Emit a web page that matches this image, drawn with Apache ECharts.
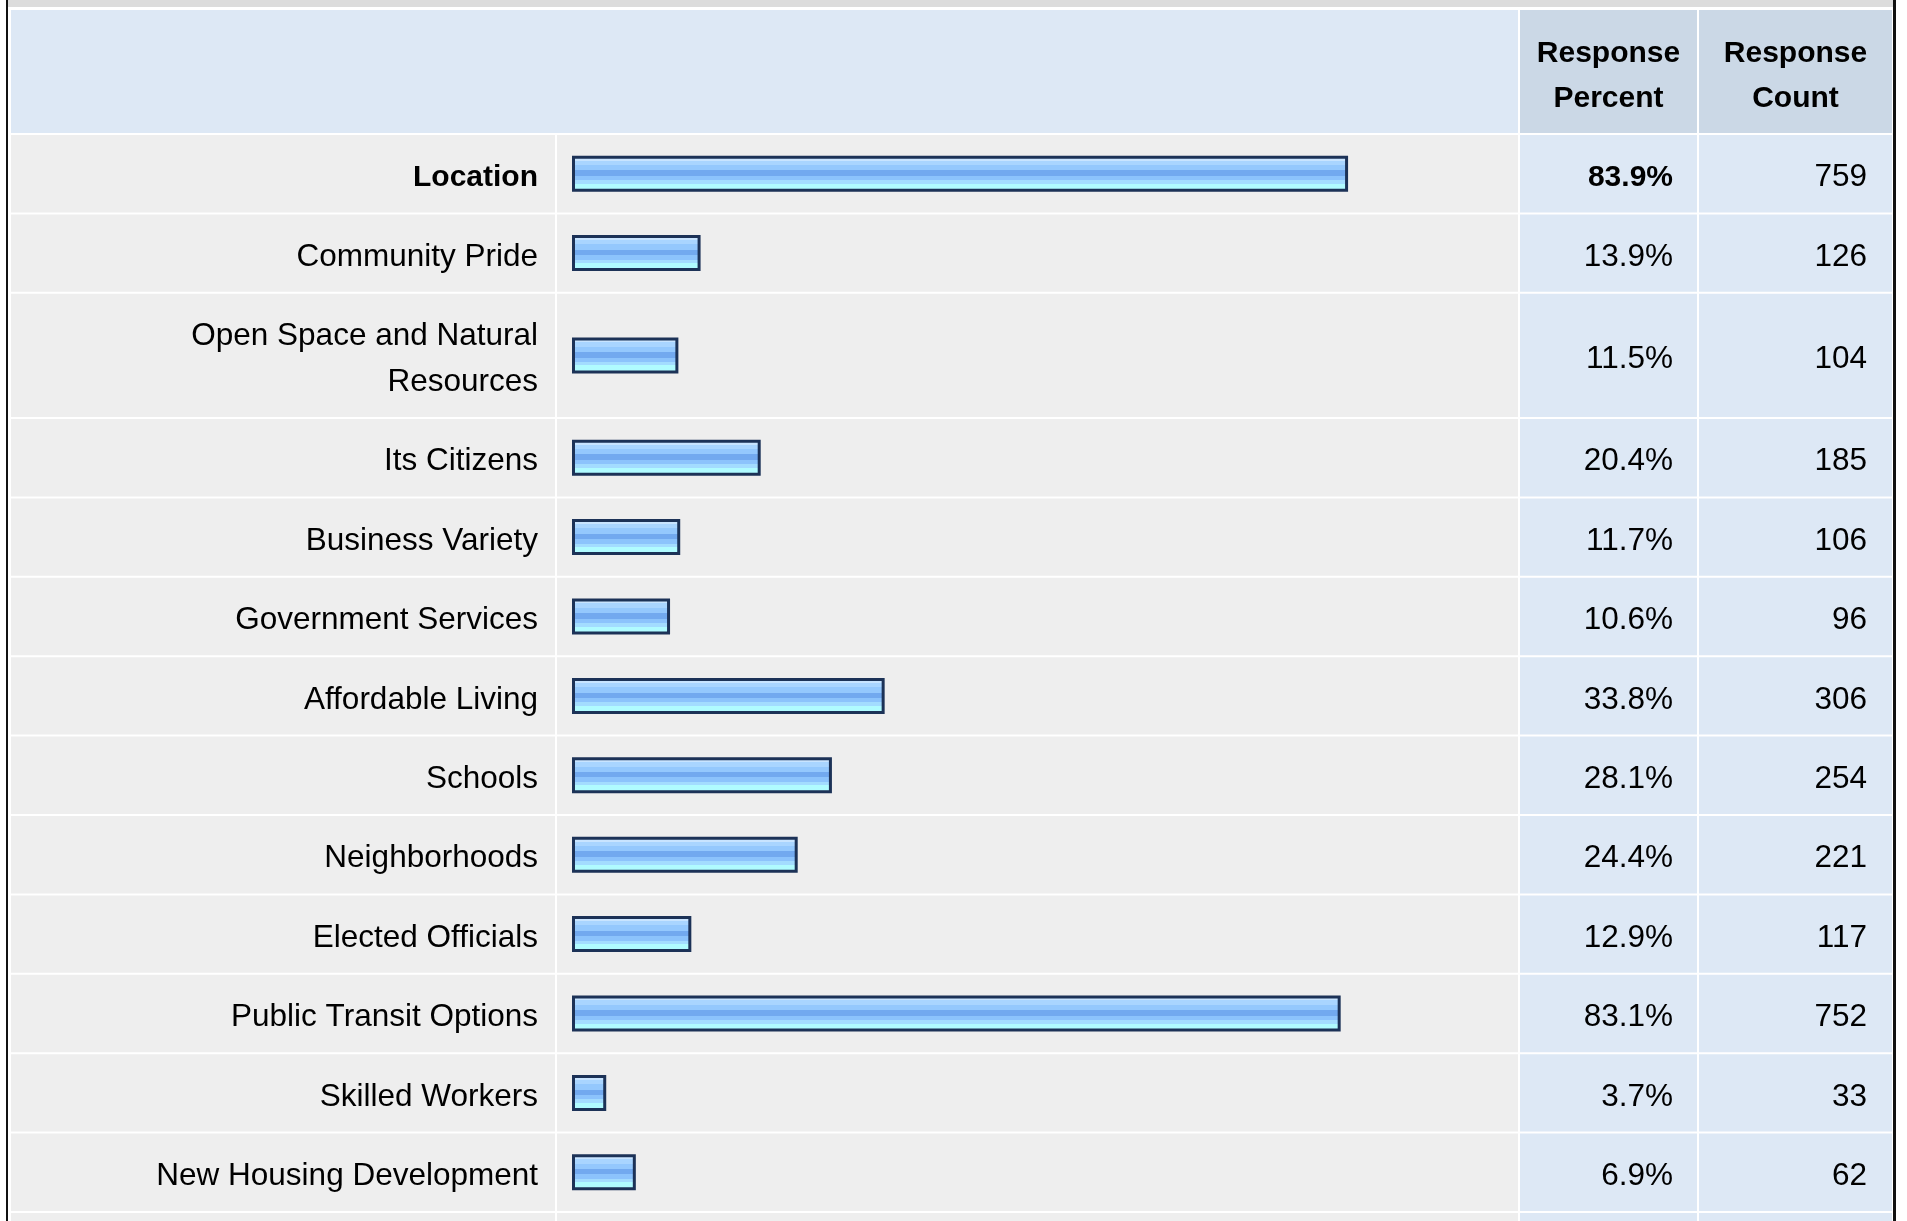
<!DOCTYPE html>
<html><head><meta charset="utf-8">
<script src="https://cdn.jsdelivr.net/npm/echarts@6/dist/echarts.min.js"></script>
<style>html,body{margin:0;padding:0;background:#fff;overflow:hidden}#c{width:1907px;height:1221px}</style>
</head><body><div id="c"></div>
<script>
// ---- data ----
const categories = ['Location', 'Community Pride', 'Open Space and Natural\nResources', 'Its Citizens',
  'Business Variety', 'Government Services', 'Affordable Living', 'Schools', 'Neighborhoods',
  'Elected Officials', 'Public Transit Options', 'Skilled Workers', 'New Housing Development'];
const responsePercent = [83.9, 13.9, 11.5, 20.4, 11.7, 10.6, 33.8, 28.1, 24.4, 12.9, 83.1, 3.7, 6.9];
const responseCount = [759, 126, 104, 185, 106, 96, 306, 254, 221, 117, 752, 33, 62];
const columnHeaders = ['Response\nPercent', 'Response\nCount'];

// ---- layout / style ----
const FONT = '"Liberation Sans", Arial, sans-serif';
const ROW_PITCH = 79.4, LINE_EXTRA = 45.8, GAP = 2, TABLE_TOP = 135;
const COL = {labelL: 11, labelR: 555, barL: 557, barR: 1518, pctL: 1520, pctR: 1697, cntL: 1699, cntR: 1892};
const GRAY = '#eeeeee', BLUE = '#dde8f5', HEAD_DARK = '#cbd8e6';
const BAR_STROKE = '#1c3257';
const barFill = new echarts.graphic.LinearGradient(0, 0, 0, 1, [
  {offset: 0, color: '#c8e4ff'}, {offset: 0.136, color: '#c8e4ff'},
  {offset: 0.136, color: '#a9d5ff'}, {offset: 0.258, color: '#a9d5ff'},
  {offset: 0.258, color: '#94c8fd'}, {offset: 0.41, color: '#94c8fd'},
  {offset: 0.41, color: '#72a9ef'}, {offset: 0.56, color: '#72a9ef'},
  {offset: 0.56, color: '#8cc3fc'}, {offset: 0.68, color: '#8cc3fc'},
  {offset: 0.68, color: '#a3dcff'}, {offset: 0.78, color: '#a3dcff'},
  {offset: 0.78, color: '#b0fbff'}, {offset: 1, color: '#b0fbff'}
]);

// row spans in row units (taller rows for wrapped labels)
const extraUnit = LINE_EXTRA / ROW_PITCH;
let acc = 0;
const rows = categories.map((c, i) => {
  const lines = c.split('\n').length;
  const s = acc; acc += 1 + (lines - 1) * extraUnit;
  return [responsePercent[i], s, acc, i];
});
const totalUnits = acc;
const maxPct = Math.max(...responsePercent);

const chart = echarts.init(document.getElementById('c'), null, {renderer: 'canvas'});

function renderItem(params, api) {
  const pct = api.value(0), idx = api.value(3);
  const top = api.coord([0, api.value(1)])[1];
  const bottom = api.coord([0, api.value(2)])[1] - GAP;
  const mid = (top + bottom) / 2;
  const x0 = api.coord([0, 0])[0], x1 = api.coord([pct, 0])[0];
  const h = bottom - top;
  const isTop = responsePercent[idx] === maxPct;
  const txt = (text, x, bold) => ({
    type: 'text',
    style: {text: text, x: x, y: mid + 4, align: 'right', verticalAlign: 'middle',
      fontSize: bold ? 30 : 31.5, fontFamily: FONT, fontWeight: bold ? 'bold' : 'normal',
      fill: '#000', lineHeight: 46}
  });
  return {
    type: 'group',
    children: [
      {type: 'rect', shape: {x: COL.labelL, y: top, width: COL.labelR - COL.labelL, height: h}, style: {fill: GRAY}},
      {type: 'rect', shape: {x: COL.barL, y: top, width: COL.barR - COL.barL, height: h}, style: {fill: GRAY}},
      {type: 'rect', shape: {x: COL.pctL, y: top, width: COL.pctR - COL.pctL, height: h}, style: {fill: BLUE}},
      {type: 'rect', shape: {x: COL.cntL, y: top, width: COL.cntR - COL.cntL, height: h}, style: {fill: BLUE}},
      {type: 'rect', shape: {x: x0 + 1.5, y: mid - 16.5, width: Math.max(x1 - x0 - 3, 1), height: 33},
        style: {fill: barFill, stroke: BAR_STROKE, lineWidth: 3}},
      txt(categories[idx], COL.labelR - 17, isTop),
      txt(responsePercent[idx].toFixed(1) + '%', COL.pctR - 24, isTop),
      txt(String(responseCount[idx]), COL.cntR - 25, false)
    ]
  };
}

const tableBottom = TABLE_TOP + totalUnits * ROW_PITCH;

const headText = (text, cx) => ({
  type: 'text', z: 10,
  style: {text: text, x: cx, y: 76, align: 'center', verticalAlign: 'middle', fontSize: 30,
    fontWeight: 'bold', fontFamily: FONT, fill: '#000', lineHeight: 45}
});

chart.setOption({
  animation: false,
  backgroundColor: '#ffffff',
  grid: {left: 572, top: TABLE_TOP, width: 925, height: totalUnits * ROW_PITCH},
  xAxis: {type: 'value', min: 0, max: 100, show: false},
  yAxis: {type: 'value', min: 0, max: totalUnits, inverse: true, show: false},
  graphic: [
    // top band + frame
    {type: 'rect', shape: {x: 8, y: 0, width: 1885, height: 7}, style: {fill: '#dcdcdc'}},
    {type: 'rect', shape: {x: 6, y: 0, width: 2, height: 1221}, style: {fill: '#111'}, z: 20},
    {type: 'rect', shape: {x: 1893, y: 0, width: 3, height: 1221}, style: {fill: '#111'}, z: 20},
    // header
    {type: 'rect', shape: {x: COL.labelL, y: 10, width: COL.barR - COL.labelL, height: 123}, style: {fill: BLUE}},
    {type: 'rect', shape: {x: COL.pctL, y: 10, width: COL.pctR - COL.pctL, height: 123}, style: {fill: HEAD_DARK}},
    {type: 'rect', shape: {x: COL.cntL, y: 10, width: COL.cntR - COL.cntL, height: 123}, style: {fill: HEAD_DARK}},
    headText(columnHeaders[0], (COL.pctL + COL.pctR) / 2),
    headText(columnHeaders[1], (COL.cntL + COL.cntR) / 2),
    // start of following row at the bottom edge
    {type: 'rect', shape: {x: COL.labelL, y: tableBottom, width: COL.labelR - COL.labelL, height: 20}, style: {fill: GRAY}},
    {type: 'rect', shape: {x: COL.barL, y: tableBottom, width: COL.barR - COL.barL, height: 20}, style: {fill: GRAY}},
    {type: 'rect', shape: {x: COL.pctL, y: tableBottom, width: COL.pctR - COL.pctL, height: 20}, style: {fill: BLUE}},
    {type: 'rect', shape: {x: COL.cntL, y: tableBottom, width: COL.cntR - COL.cntL, height: 20}, style: {fill: BLUE}}
  ],
  series: [{
    type: 'custom',
    clip: false,
    renderItem: renderItem,
    encode: {x: 0, y: 1},
    data: rows
  }]
});
</script></body></html>
